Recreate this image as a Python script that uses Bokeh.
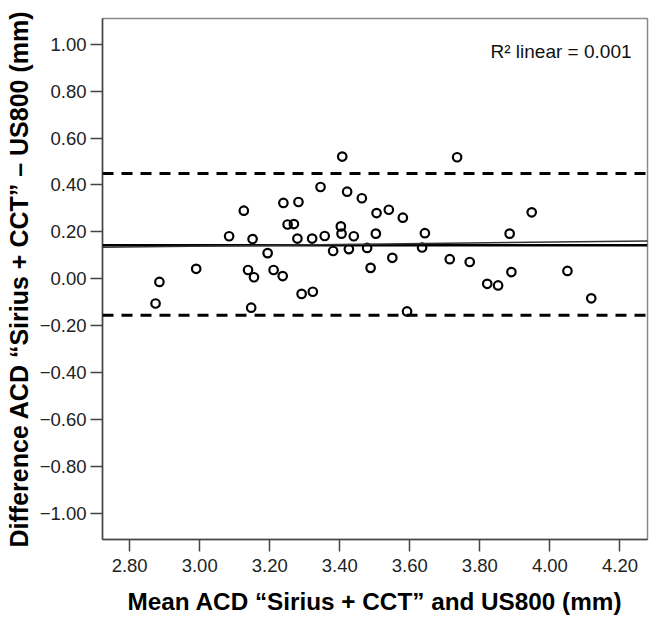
from bokeh.plotting import figure
from bokeh.models import FixedTicker, NumeralTickFormatter, Span, Slope, Label, Range1d
from bokeh.embed import file_html
from bokeh.resources import INLINE

# Data
mean_acd = [2.885, 2.874, 2.990, 3.084, 3.126, 3.151, 3.138, 3.155, 3.147, 3.194,
            3.211, 3.237, 3.239, 3.251, 3.269, 3.282, 3.279, 3.291, 3.323, 3.407,
            3.735, 3.345, 3.421, 3.463, 3.505, 3.540, 3.580, 3.403, 3.405, 3.440,
            3.503, 3.643, 3.321, 3.357, 3.381, 3.426, 3.478, 3.635, 3.550, 3.488,
            3.714, 3.771, 3.592, 3.821, 3.948, 3.885, 3.852, 3.890, 4.050, 4.118]
diff_acd = [-0.014, -0.106, 0.042, 0.181, 0.290, 0.169, 0.037, 0.006, -0.124, 0.109,
            0.037, 0.011, 0.323, 0.231, 0.233, 0.327, 0.171, -0.065, -0.056, 0.521,
            0.518, 0.391, 0.371, 0.343, 0.280, 0.294, 0.260, 0.223, 0.192, 0.181,
            0.192, 0.194, 0.171, 0.182, 0.118, 0.126, 0.131, 0.133, 0.089, 0.046,
            0.083, 0.071, -0.140, -0.022, 0.283, 0.192, -0.029, 0.028, 0.033, -0.084]

mean_diff = 0.143
upper_loa = 0.449
lower_loa = -0.156
fit_intercept = 0.0868
fit_slope = 0.01735
r2_text = "R\u00b2 linear = 0.001"

x_ticks = [2.8, 3.0, 3.2, 3.4, 3.6, 3.8, 4.0, 4.2]
y_ticks = [-1.0, -0.8, -0.6, -0.4, -0.2, 0.0, 0.2, 0.4, 0.6, 0.8, 1.0]
y_tick_labels = ["\u22121.00", "\u22120.80", "\u22120.60", "\u22120.40", "\u22120.20",
                 "0.00", "0.20", "0.40", "0.60", "0.80", "1.00"]

x_title = "Mean ACD \u201cSirius + CCT\u201d and US800 (mm)"
y_title = "Difference ACD \u201cSirius + CCT\u201d \u2013 US800 (mm)"

FONT = "Liberation Sans"

p = figure(width=655, height=617, output_backend="svg", toolbar_location=None,
           x_range=Range1d(2.7225, 4.2786), y_range=Range1d(-1.113, 1.110),
           min_border_left=102, min_border_right=8, min_border_top=18, min_border_bottom=75)
p.grid.visible = False
p.background_fill_color = "white"
p.border_fill_color = "white"
p.outline_line_color = "#8a8a8a"
p.outline_line_width = 1.5

for ax in (p.xaxis[0], p.yaxis[0]):
    ax.major_tick_out = 12
    ax.major_tick_in = 0
    ax.minor_tick_line_color = None
    ax.major_tick_line_color = "#444444"
    ax.major_tick_line_width = 1.5
    ax.axis_line_color = "#444444"
    ax.axis_line_width = 1.5
    ax.major_label_text_font = FONT
    ax.major_label_text_font_size = "18.5px"
    ax.major_label_text_color = "#222222"
    ax.axis_label_text_font = FONT
    ax.axis_label_text_font_style = "bold"
    ax.axis_label_text_color = "black"

p.xaxis[0].ticker = FixedTicker(ticks=x_ticks)
p.xaxis[0].formatter = NumeralTickFormatter(format="0.00")
p.xaxis[0].major_label_standoff = 7
p.xaxis[0].axis_label = x_title
p.xaxis[0].axis_label_text_font_size = "24.3px"
p.xaxis[0].axis_label_standoff = 13

p.yaxis[0].ticker = FixedTicker(ticks=y_ticks)
p.yaxis[0].major_label_overrides = {v: s for v, s in zip(y_ticks, y_tick_labels)}
p.yaxis[0].major_label_standoff = 4
p.yaxis[0].axis_label = y_title
p.yaxis[0].axis_label_text_font_size = "25px"
p.yaxis[0].axis_label_standoff = 4

# limits of agreement and mean difference
for yv in (upper_loa, lower_loa):
    p.add_layout(Span(location=yv, dimension="width", line_color="black",
                      line_width=3, line_dash="11 8"))
p.add_layout(Span(location=mean_diff, dimension="width", line_color="black", line_width=2.5))
p.add_layout(Slope(gradient=fit_slope, y_intercept=fit_intercept, line_color="#333333",
                   line_width=1.5))

p.scatter(mean_acd, diff_acd, marker="circle", size=8.5, fill_color=None,
          line_color="black", line_width=2.2)

p.add_layout(Label(x=4.233, y=0.969, text=r2_text, text_align="right",
                   text_baseline="middle", text_font=FONT, text_font_size="19px",
                   text_color="#111111"))

open("out.html", "w").write(file_html(p, INLINE))
